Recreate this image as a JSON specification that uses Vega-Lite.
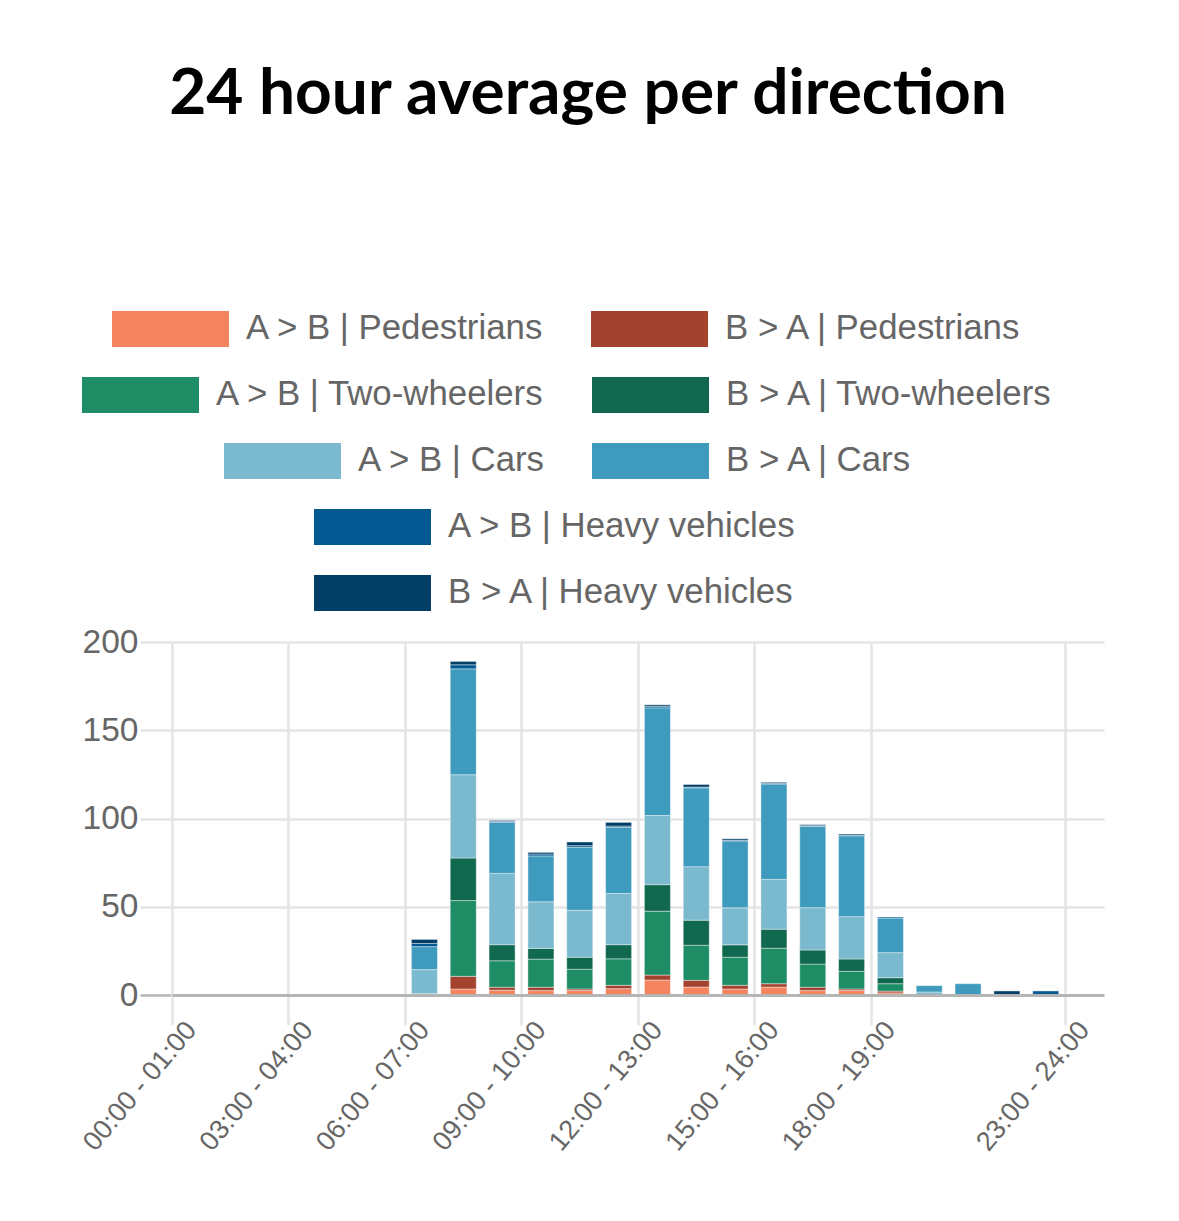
{
  "$schema": "https://vega.github.io/schema/vega-lite/v6.json",
  "width": 932,
  "height": 353,
  "autosize": {"type": "none"},
  "padding": {"left": 172, "top": 642, "right": 75, "bottom": 226},
  "background": "#ffffff",
  "title": {
    "text": "24 hour average per direction",
    "font": "Lato",
    "fontSize": 64,
    "fontWeight": "bold",
    "color": "#000000",
    "anchor": "middle",
    "frame": "bounds",
    "dx": -3,
    "dy": -180
  },
  "config": {
    "view": {"stroke": null},
    "legend": {
      "orient": "none",
      "title": null,
      "symbolType": "M-1,-0.3077L1,-0.3077L1,0.3077L-1,0.3077Z",
      "symbolSize": 13689,
      "symbolStrokeWidth": 0,
      "symbolOpacity": 1,
      "labelFont": "Liberation Sans",
      "labelFontSize": 34.8,
      "labelColor": "#666666",
      "labelOffset": 17,
      "labelLimit": 0,
      "clipHeight": 36,
      "columnPadding": 46,
      "rowPadding": 30
    }
  },
  "data": {
    "values": [
      {"hour": "06:00 - 07:00", "A > B | Pedestrians": 0, "B > A | Pedestrians": 0, "A > B | Two-wheelers": 0.8, "B > A | Two-wheelers": 0, "A > B | Cars": 13.6, "B > A | Cars": 13.0, "A > B | Heavy vehicles": 1.8, "B > A | Heavy vehicles": 2.3},
      {"hour": "07:00 - 08:00", "A > B | Pedestrians": 3.4, "B > A | Pedestrians": 7.2, "A > B | Two-wheelers": 42.9, "B > A | Two-wheelers": 24.1, "A > B | Cars": 47.2, "B > A | Cars": 60.0, "A > B | Heavy vehicles": 2.3, "B > A | Heavy vehicles": 1.9},
      {"hour": "08:00 - 09:00", "A > B | Pedestrians": 2.7, "B > A | Pedestrians": 1.7, "A > B | Two-wheelers": 15.0, "B > A | Two-wheelers": 9.1, "A > B | Cars": 40.4, "B > A | Cars": 29.0, "A > B | Heavy vehicles": 0.4, "B > A | Heavy vehicles": 0.6},
      {"hour": "09:00 - 10:00", "A > B | Pedestrians": 2.5, "B > A | Pedestrians": 1.9, "A > B | Two-wheelers": 15.9, "B > A | Two-wheelers": 6.1, "A > B | Cars": 26.4, "B > A | Cars": 26.0, "A > B | Heavy vehicles": 1.1, "B > A | Heavy vehicles": 0.9},
      {"hour": "10:00 - 11:00", "A > B | Pedestrians": 2.5, "B > A | Pedestrians": 0.9, "A > B | Two-wheelers": 11.2, "B > A | Two-wheelers": 6.8, "A > B | Cars": 26.6, "B > A | Cars": 35.7, "A > B | Heavy vehicles": 0.9, "B > A | Heavy vehicles": 2.1},
      {"hour": "11:00 - 12:00", "A > B | Pedestrians": 3.6, "B > A | Pedestrians": 1.9, "A > B | Two-wheelers": 15.0, "B > A | Two-wheelers": 8.0, "A > B | Cars": 29.0, "B > A | Cars": 37.4, "A > B | Heavy vehicles": 0.8, "B > A | Heavy vehicles": 2.1},
      {"hour": "12:00 - 13:00", "A > B | Pedestrians": 8.5, "B > A | Pedestrians": 2.8, "A > B | Two-wheelers": 36.2, "B > A | Two-wheelers": 15.0, "A > B | Cars": 39.2, "B > A | Cars": 61.0, "A > B | Heavy vehicles": 0.9, "B > A | Heavy vehicles": 0.8},
      {"hour": "13:00 - 14:00", "A > B | Pedestrians": 4.5, "B > A | Pedestrians": 3.8, "A > B | Two-wheelers": 19.9, "B > A | Two-wheelers": 14.2, "A > B | Cars": 30.3, "B > A | Cars": 44.7, "A > B | Heavy vehicles": 0.4, "B > A | Heavy vehicles": 1.5},
      {"hour": "14:00 - 15:00", "A > B | Pedestrians": 3.4, "B > A | Pedestrians": 2.1, "A > B | Two-wheelers": 15.9, "B > A | Two-wheelers": 7.0, "A > B | Cars": 21.0, "B > A | Cars": 37.9, "A > B | Heavy vehicles": 0.4, "B > A | Heavy vehicles": 0.8},
      {"hour": "15:00 - 16:00", "A > B | Pedestrians": 4.5, "B > A | Pedestrians": 1.9, "A > B | Two-wheelers": 20.1, "B > A | Two-wheelers": 10.8, "A > B | Cars": 28.2, "B > A | Cars": 54.0, "A > B | Heavy vehicles": 0.4, "B > A | Heavy vehicles": 0.6},
      {"hour": "16:00 - 17:00", "A > B | Pedestrians": 2.5, "B > A | Pedestrians": 1.9, "A > B | Two-wheelers": 13.1, "B > A | Two-wheelers": 8.0, "A > B | Cars": 24.0, "B > A | Cars": 46.0, "A > B | Heavy vehicles": 0.4, "B > A | Heavy vehicles": 0.6},
      {"hour": "17:00 - 18:00", "A > B | Pedestrians": 2.5, "B > A | Pedestrians": 0.9, "A > B | Two-wheelers": 10.0, "B > A | Two-wheelers": 7.0, "A > B | Cars": 24.0, "B > A | Cars": 45.8, "A > B | Heavy vehicles": 0.4, "B > A | Heavy vehicles": 0.6},
      {"hour": "18:00 - 19:00", "A > B | Pedestrians": 1.2, "B > A | Pedestrians": 1.0, "A > B | Two-wheelers": 4.2, "B > A | Two-wheelers": 3.4, "A > B | Cars": 14.2, "B > A | Cars": 19.6, "A > B | Heavy vehicles": 0.6, "B > A | Heavy vehicles": 0},
      {"hour": "19:00 - 20:00", "A > B | Pedestrians": 0, "B > A | Pedestrians": 0, "A > B | Two-wheelers": 0, "B > A | Two-wheelers": 0, "A > B | Cars": 1.7, "B > A | Cars": 3.6, "A > B | Heavy vehicles": 0, "B > A | Heavy vehicles": 0},
      {"hour": "20:00 - 21:00", "A > B | Pedestrians": 0, "B > A | Pedestrians": 0, "A > B | Two-wheelers": 0, "B > A | Two-wheelers": 0, "A > B | Cars": 0, "B > A | Cars": 6.4, "A > B | Heavy vehicles": 0, "B > A | Heavy vehicles": 0},
      {"hour": "21:00 - 22:00", "A > B | Pedestrians": 0, "B > A | Pedestrians": 0, "A > B | Two-wheelers": 0, "B > A | Two-wheelers": 0, "A > B | Cars": 0, "B > A | Cars": 0, "A > B | Heavy vehicles": 0, "B > A | Heavy vehicles": 2.3},
      {"hour": "22:00 - 23:00", "A > B | Pedestrians": 0, "B > A | Pedestrians": 0, "A > B | Two-wheelers": 0, "B > A | Two-wheelers": 0, "A > B | Cars": 0, "B > A | Cars": 0, "A > B | Heavy vehicles": 2.3, "B > A | Heavy vehicles": 0}
    ]
  },
  "transform": [
    {
      "fold": ["A > B | Pedestrians", "B > A | Pedestrians", "A > B | Two-wheelers", "B > A | Two-wheelers", "A > B | Cars", "B > A | Cars", "A > B | Heavy vehicles", "B > A | Heavy vehicles"],
      "as": ["series", "value"]
    },
    {"filter": "datum.value > 0"},
    {
      "calculate": "indexof(['A > B | Pedestrians', 'B > A | Pedestrians', 'A > B | Two-wheelers', 'B > A | Two-wheelers', 'A > B | Cars', 'B > A | Cars', 'A > B | Heavy vehicles', 'B > A | Heavy vehicles'], datum.series)",
      "as": "ord"
    }
  ],
  "encoding": {
    "x": {
      "field": "hour",
      "type": "ordinal",
      "sort": null,
      "scale": {
        "domain": ["00:00 - 01:00", "01:00 - 02:00", "02:00 - 03:00", "03:00 - 04:00", "04:00 - 05:00", "05:00 - 06:00", "06:00 - 07:00", "07:00 - 08:00", "08:00 - 09:00", "09:00 - 10:00", "10:00 - 11:00", "11:00 - 12:00", "12:00 - 13:00", "13:00 - 14:00", "14:00 - 15:00", "15:00 - 16:00", "16:00 - 17:00", "17:00 - 18:00", "18:00 - 19:00", "19:00 - 20:00", "20:00 - 21:00", "21:00 - 22:00", "22:00 - 23:00", "23:00 - 24:00"],
        "paddingInner": 0,
        "paddingOuter": 0
      },
      "axis": {
        "values": ["00:00 - 01:00", "03:00 - 04:00", "06:00 - 07:00", "09:00 - 10:00", "12:00 - 13:00", "15:00 - 16:00", "18:00 - 19:00", "23:00 - 24:00"],
        "bandPosition": 0,
        "title": null,
        "zindex": 1,
        "labelAngle": -50,
        "labelAlign": "right",
        "labelBaseline": "middle",
        "labelFont": "Liberation Sans",
        "labelFontSize": 27,
        "labelColor": "#666666",
        "labelPadding": 0,
        "labelDx": 8,
        "labelDy": 15,
        "labelOverlap": false,
        "labelFlush": false,
        "tickSize": 30,
        "tickWidth": 2.5,
        "tickColor": "#e5e5e5",
        "grid": true,
        "gridColor": "#e5e5e5",
        "gridWidth": 2.5,
        "domainColor": "#b5b5b5",
        "domainWidth": 3
      }
    },
    "y": {
      "field": "value",
      "type": "quantitative",
      "stack": "zero",
      "scale": {"domain": [0, 200]},
      "axis": {
        "values": [0, 50, 100, 150, 200],
        "title": null,
        "domain": false,
        "tickSize": 32,
        "tickWidth": 2.5,
        "tickColor": {"condition": {"test": "datum.value === 0", "value": "#b5b5b5"}, "value": "#e5e5e5"},
        "grid": true,
        "gridColor": "#e5e5e5",
        "gridWidth": 2.5,
        "labelFont": "Liberation Sans",
        "labelFontSize": 33.5,
        "labelColor": "#666666",
        "labelPadding": 2
      }
    }
  },
  "layer": [
    {
      "mark": {"type": "bar", "width": {"band": 0.67}, "stroke": "#ffffff", "strokeWidth": 1, "strokeOpacity": 0.4},
      "encoding": {
        "color": {
          "field": "series",
          "type": "nominal",
          "scale": {
            "domain": ["A > B | Pedestrians", "B > A | Pedestrians", "A > B | Two-wheelers", "B > A | Two-wheelers", "A > B | Cars", "B > A | Cars", "A > B | Heavy vehicles", "B > A | Heavy vehicles"],
            "range": ["#f4845f", "#a3432f", "#1e8c64", "#10684f", "#7ab9ce", "#3f9bbe", "#035a92", "#033e66"]
          },
          "legend": {"values": ["A > B | Pedestrians", "B > A | Pedestrians"], "columns": 2, "legendX": -60, "legendY": -331}
        },
        "order": {"field": "ord"}
      }
    },
    {
      "transform": [{"filter": {"field": "series", "oneOf": ["A > B | Two-wheelers", "B > A | Two-wheelers"]}}],
      "mark": {"type": "bar", "opacity": 0},
      "encoding": {
        "color": {
          "field": "series",
          "type": "nominal",
          "scale": {"domain": ["A > B | Two-wheelers", "B > A | Two-wheelers"], "range": ["#1e8c64", "#10684f"]},
          "legend": {"columns": 2, "legendX": -90, "legendY": -265, "symbolOpacity": 1}
        }
      }
    },
    {
      "transform": [{"filter": {"field": "series", "oneOf": ["A > B | Cars", "B > A | Cars"]}}],
      "mark": {"type": "bar", "opacity": 0},
      "encoding": {
        "color": {
          "field": "series",
          "type": "nominal",
          "scale": {"domain": ["A > B | Cars", "B > A | Cars"], "range": ["#7ab9ce", "#3f9bbe"]},
          "legend": {"columns": 2, "legendX": 52, "legendY": -199, "symbolOpacity": 1}
        }
      }
    },
    {
      "transform": [{"filter": {"field": "series", "oneOf": ["A > B | Heavy vehicles", "B > A | Heavy vehicles"]}}],
      "mark": {"type": "bar", "opacity": 0},
      "encoding": {
        "color": {
          "field": "series",
          "type": "nominal",
          "scale": {"domain": ["A > B | Heavy vehicles", "B > A | Heavy vehicles"], "range": ["#035a92", "#033e66"]},
          "legend": {"columns": 1, "legendX": 142, "legendY": -133, "symbolOpacity": 1}
        }
      }
    }
  ],
  "resolve": {"scale": {"color": "independent"}}
}
